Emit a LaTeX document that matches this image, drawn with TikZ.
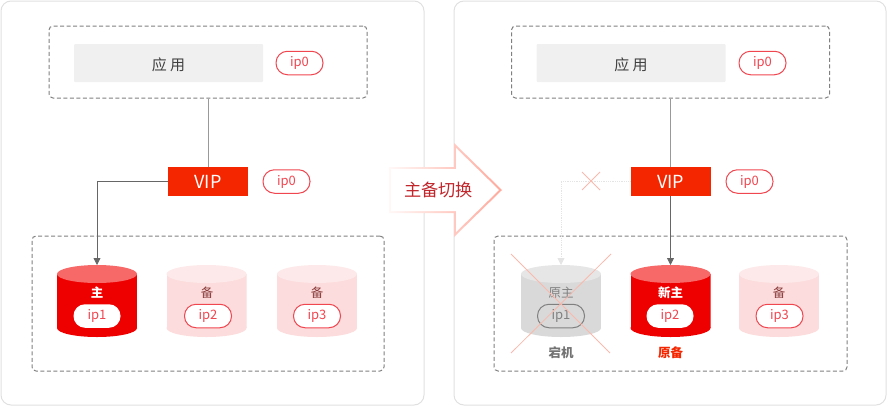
\documentclass[tikz,border=0pt]{standalone}
\usepackage{fontspec}
\setmainfont{Noto Sans CJK SC}
\usetikzlibrary{calc,positioning,shapes.geometric,arrows.meta}
\definecolor{panelgray}{HTML}{E0E0E0}
\definecolor{dashgray}{HTML}{808080}
\definecolor{appgray}{HTML}{F0F0F0}
\definecolor{linegray}{HTML}{999999}
\definecolor{arrowgray}{HTML}{666666}
\definecolor{fadegray}{HTML}{E4E4E4}
\definecolor{vipred}{HTML}{F32600}
\definecolor{pillred}{HTML}{F04650}
\definecolor{mainred}{HTML}{EE0000}
\definecolor{maintop}{HTML}{F76868}
\definecolor{backbody}{HTML}{FCDCDC}
\definecolor{backtop}{HTML}{FDE9E9}
\definecolor{downbody}{HTML}{D9D9D9}
\definecolor{downtop}{HTML}{E6E6E6}
\definecolor{backtext}{HTML}{8A3C3C}
\definecolor{crossred}{HTML}{F9B9AC}
\definecolor{switchred}{HTML}{C0262C}
\definecolor{switchedge}{HTML}{FFA99C}

\begin{document}
\begin{tikzpicture}[
                x=1pt,y=-1pt,
                panel/.style={draw=panelgray,line width=1pt,rounded corners=10pt,minimum width=#1,minimum height=404pt,inner sep=0pt},
                group/.style={draw=dashgray,dash pattern=on 4pt off 2.5pt,line width=1pt,rounded corners=4pt,inner sep=0pt},
                appbox/.style={fill=appgray,rounded corners=1pt,minimum width=189pt,minimum height=38pt,inner sep=0pt,text=black!75,text height=15.5pt,text depth=1.3pt,font=\fontsize{15}{15}\selectfont},
                pill/.style={draw=pillred,fill=white,rounded corners=11.5pt,line width=1pt,minimum width=47pt,minimum height=23.5pt,inner sep=0pt,text=pillred,font=\fontsize{13}{13}\selectfont},
                pillmain/.style={pill,draw=none},
                pilldown/.style={pill,draw=black!50,fill=none,text=black!50},
                vip/.style={fill=vipred,text=white,minimum width=80pt,minimum height=29pt,inner sep=0pt,font=\fontsize{18}{18}\selectfont},
                db/.style 2 args={minimum width=80pt,minimum height=72pt,inner sep=0pt,outer sep=0pt,path picture={
                    \begin{scope}[shift={(path picture bounding box.center)}]
                        \fill[#1] (-40,-27) rectangle (40,27);
                        \fill[#1] (0,27) ellipse [x radius=40,y radius=9];
                        \fill[#2] (0,-27) ellipse [x radius=40,y radius=9];
                    \end{scope}}},
                dbmain/.style={db={mainred}{maintop}},
                dbback/.style={db={backbody}{backtop}},
                dbdown/.style={db={downbody}{downtop}},
                role/.style={inner sep=0pt,font=\fontsize{12.5}{12.5}\selectfont},
                wire/.style={draw=linegray,line width=.9pt},
                flow/.style={draw=arrowgray,line width=.8pt,-{Triangle[length=7pt,width=7pt]}},
                cross/.style={draw=crossred,line width=.8pt}
            ]
                \useasboundingbox (0,0) rectangle (888,407);
                % left panel
                \node (panelA) [panel=423pt] at (212.5,203) {};
                \node (hostA) [group,minimum width=318pt,minimum height=72pt] at (208,62) {};
                \node (appA) [appbox] at (168.5,63) {应 用};
                \node (appipA) [pill] at (299.5,63) {ip0};
                \node (vipA) [vip] at (208,181.5) {VIP};
                \node (vipipA) [pill] at (286.5,181.5) {ip0};
                \node (setA) [group,minimum width=352pt,minimum height=135pt] at (208,303.5) {};
                \node (dbA) [dbmain] at (97,301) {};
                \node (dbB) [dbback] at (206.5,301) {};
                \node (dbC) [dbback] at (317,301) {};
                \node (roleA) [role,text=white] at (97,293) {\bfseries 主};
                \node (roleB) [role,text=backtext] at (207,293) {备};
                \node (roleC) [role,text=backtext] at (317,293) {备};
                \node (ipA) [pillmain] at (97,316) {ip1};
                \node (ipB) [pill] at (208,316) {ip2};
                \node (ipC) [pill] at (317,316) {ip3};
                \draw[wire] (hostA.south) -- (vipA.north);
                \draw[flow] (vipA.west) -| (dbA.north);
                % right panel
                \node (panelB) [panel=432pt] at (670,203) {};
                \node (hostB) [group,minimum width=318pt,minimum height=72pt] at (670.5,62) {};
                \node (appB) [appbox] at (631,63) {应 用};
                \node (appipB) [pill] at (762.5,63) {ip0};
                \node (vipB) [vip] at (670.5,181.5) {VIP};
                \node (vipipB) [pill] at (749.5,181.5) {ip0};
                \node (setB) [group,minimum width=353pt,minimum height=135pt] at (670.5,303.5) {};
                \node (dbD) [dbdown] at (561,301) {};
                \node (dbE) [dbmain] at (670.5,301) {};
                \node (dbF) [dbback] at (779,301) {};
                \node (roleD) [role,text=black!50] at (561,293) {原主};
                \node (roleE) [role,text=white] at (670.5,293) {\bfseries 新主};
                \node (roleF) [role,text=backtext] at (779,293) {备};
                \node (ipD) [pilldown] at (561,316) {ip1};
                \node (ipE) [pillmain] at (670,316) {ip2};
                \node (ipF) [pill] at (779.5,316) {ip3};
                \node (downD) [role,text=black!55,below=10pt of dbD] {\bfseries 宕机};
                \node (oldE) [role,text=vipred,below=10pt of dbE] {\bfseries 原备};
                \draw[wire] (hostB.south) -- (vipB.north);
                \draw[flow] (vipB.south) -- (dbE.north);
                \draw[draw=fadegray,densely dotted,line width=.8pt,-{Triangle[length=7pt,width=7pt,fill=fadegray]}] (vipB.west) -| (dbD.north);
                \draw[cross] (582,172) -- (600,190);
                \draw[cross] (600,172) -- (582,190);
                \draw[cross] (511,254) -- (610,353);
                \draw[cross] (611,254) -- (511,353);
                % switch arrow
                \shade[left color=switchedge!8,right color=switchedge,middle color=switchedge!55]
                    (389,167) -- (454,167) -- (454,143) -- (502,190) -- (454,237) -- (454,213) -- (389,213) -- cycle;
                \fill[white] (391,169) -- (456,169) -- (456,148) -- (499,190) -- (456,232) -- (456,211) -- (391,211) -- cycle;
                \node (switch) [inner sep=0pt,text=switchred,font=\fontsize{17.2}{17.2}\selectfont] at (438.5,190) {主备切换};
            \end{tikzpicture}
\end{document}
